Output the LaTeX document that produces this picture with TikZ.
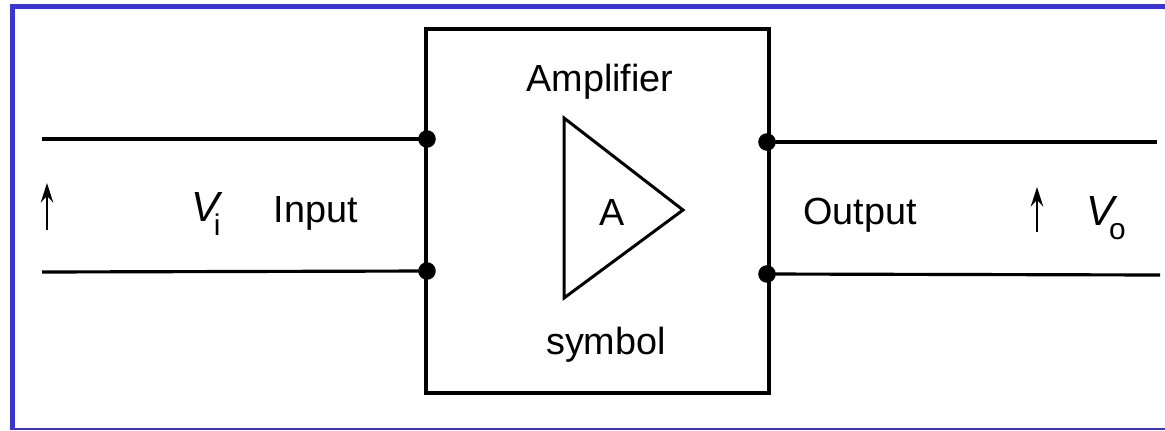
\documentclass[tikz,border=0pt]{standalone}
\usepackage{fontspec}
\setmainfont{Liberation Sans}
\usetikzlibrary{arrows.meta}
\definecolor{frameblue}{RGB}{58,53,204}
\tikzset{
  wire/.style={line width=1.8pt},
  term/.style={circle, fill=black, inner sep=0pt, minimum size=10pt},
  lbl/.style={font=\fontsize{21.5}{25}\selectfont, inner sep=0pt},
  varrow/.style={line width=1.6pt, -{Stealth[length=11pt,width=7pt]}},
}
\newcommand{\volt}[1]{{\fontsize{24}{26}\selectfont\textit{V}}\kern-5pt\raisebox{-8pt}{\fontsize{17}{17}\selectfont #1}}
\begin{document}
\begin{tikzpicture}[x=0.02cm, y=-0.02cm]
\useasboundingbox (0,0) rectangle (1165,430);
% blue frame
\draw[frameblue, line width=3pt] (12.5,430) -- (12.5,6.5) -- (1165,6.5);
\draw[frameblue, line width=1.2pt] (12.5,429.3) -- (1165,429.3);
% amplifier box
\draw[line width=2pt] (426,29) rectangle (769,393);
% terminals
\node[term] (inA) at (427,139) {};
\node[term] (inB) at (427,271) {};
\node[term] (outA) at (767,142) {};
\node[term] (outB) at (767,274) {};
\coordinate (inA0) at (42,139);
\coordinate (inB0) at (42,272);
\coordinate (outA1) at (1157,142);
\coordinate (outB1) at (1160,275);
\draw[wire] (inA0) -- (inA.center);
\draw[wire] (inB0) -- (inB.center);
\draw[wire] (outA.center) -- (outA1);
\draw[wire] (outB.center) -- (outB1);
% triangle symbol
\draw[line width=1.7pt, line join=miter] (564,118) -- (683,210) -- (564,298) -- cycle;
\node[lbl] (gain) at (612,212) {A};
\node[lbl] (title) at (600,82) {Amplifier};
\node[lbl] (sym) at (606,345) {symbol};
% input side
\coordinate (vi0) at (47,230);
\coordinate (vi1) at (47,183);
\draw[varrow] (vi0) -- (vi1);
\node[lbl] (vi) at (206,214) {\volt{i}};
\node[lbl] (inlbl) at (316,213) {Input};
% output side
\node[lbl] (outlbl) at (860,215) {Output};
\coordinate (vo0) at (1037,232);
\coordinate (vo1) at (1037,187);
\draw[varrow] (vo0) -- (vo1);
\node[lbl] (vo) at (1106,218) {\volt{o}};
\end{tikzpicture}
\end{document}
